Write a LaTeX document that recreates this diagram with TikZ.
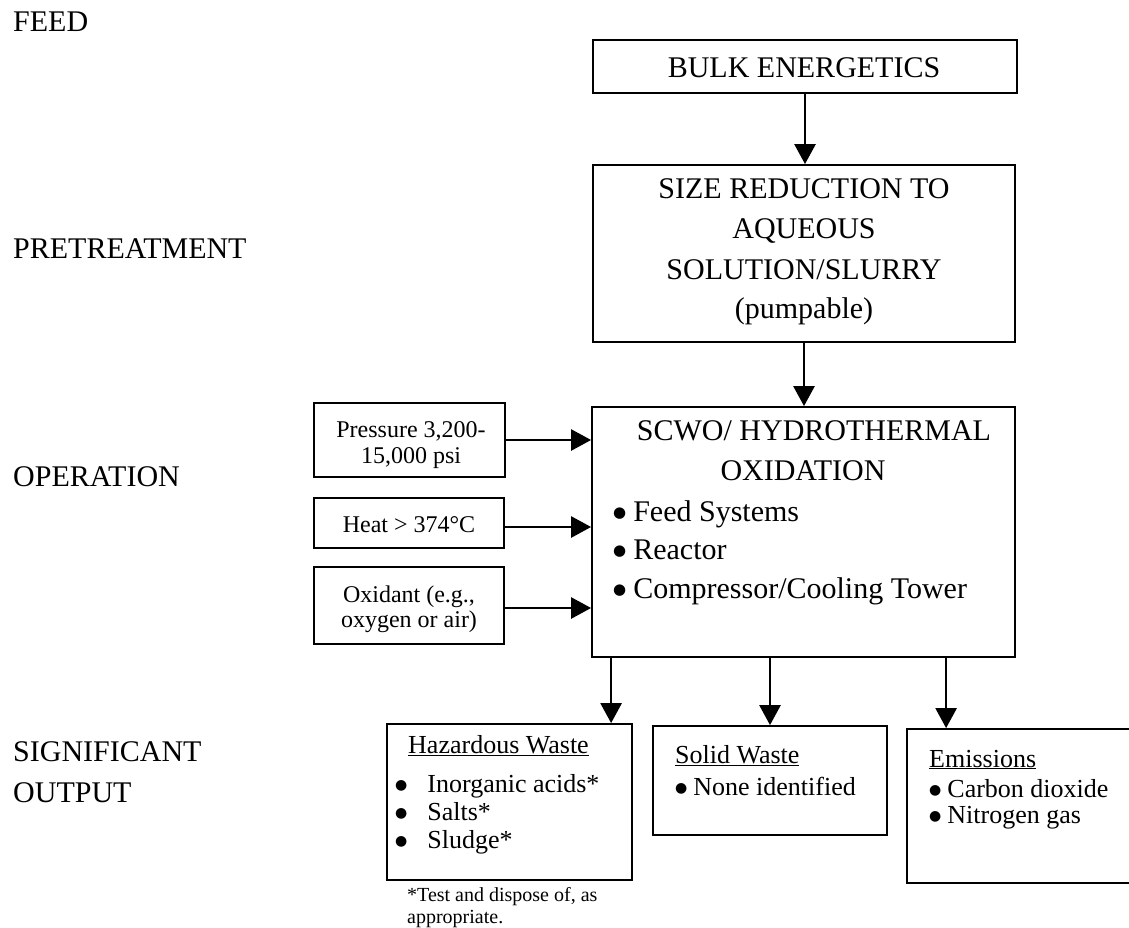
\documentclass[tikz,border=0pt]{standalone}
\usepackage{fontspec}
\usepackage{graphicx}
\setmainfont{Liberation Serif}
\newfontfamily\symfont{DejaVu Sans}
\usetikzlibrary{arrows.meta}
% round list bullets
\newcommand\bulbig{\raisebox{3.4pt}{\fontsize{15}{15}\symfont ●}\hspace{7pt}}
\newcommand\bulmid{\raisebox{3pt}{\fontsize{14}{14}\symfont ●}\hspace{6pt}}
\begin{document}
\begin{tikzpicture}[x=1pt,y=-1pt,
  box/.style={draw, line width=1.8pt, inner sep=0pt},
  flow/.style={-{Triangle[length=20pt,width=21pt]}, line width=2.6pt},
  big/.style={font=\fontsize{30}{36}\selectfont, inner sep=0pt},
  mid/.style={font=\fontsize{26}{31}\selectfont, inner sep=0pt},
  small/.style={font=\fontsize{24}{28}\selectfont, inner sep=0pt},
  note/.style={font=\fontsize{20}{24}\selectfont, inner sep=0pt},
  lbl/.style={big, anchor=base west},
  ctr/.style={anchor=base},
  lft/.style={anchor=base west}]
\useasboundingbox (0,0) rectangle (1129,928);

% stage labels on the left
\node[lbl] (lfeed) at (13,32) {FEED};
\node[lbl] (lpre) at (13,258) {PRETREATMENT};
\node[lbl] (lop) at (13,486) {OPERATION};
\node[lbl] (lsig) at (13,761) {SIGNIFICANT};
\node[lbl] (lout) at (13,802) {OUTPUT};

% process boxes
\node[box, minimum width=424pt, minimum height=53pt] (bulk) at (805,66.5) {};
\node[box, minimum width=422pt, minimum height=177pt] (size) at (804,253.5) {};
\node[box, minimum width=423pt, minimum height=250pt] (scwo) at (803.5,532) {};
\node[box, minimum width=191pt, minimum height=74pt] (press) at (409.5,440) {};
\node[box, minimum width=190pt, minimum height=50pt] (heat) at (409,523) {};
\node[box, minimum width=190pt, minimum height=77pt] (oxid) at (409,605.5) {};
\node[box, minimum width=245pt, minimum height=156pt] (haz) at (509.5,802) {};
\node[box, minimum width=234pt, minimum height=109pt] (solid) at (770,780.5) {};
\node[box, minimum width=233pt, minimum height=154pt] (emis) at (1023.5,806) {};

% box texts
\node[big, ctr] (tbulk) at (804,78) {BULK ENERGETICS};
\node[big, ctr] (tsize1) at (804,198) {SIZE REDUCTION TO};
\node[big, ctr] (tsize2) at (804,238) {AQUEOUS};
\node[big, ctr] (tsize3) at (804,279) {SOLUTION/SLURRY};
\node[big, ctr] (tsize4) at (804,318) {(pumpable)};

\node[big, ctr] (tscwo1) at (814,440) {SCWO/ HYDROTHERMAL};
\node[big, ctr] (tscwo2) at (803,480) {OXIDATION};
\node[big, lft] (tscwo3) at (613,521) {\bulbig Feed Systems};
\node[big, lft] (tscwo4) at (613,559) {\bulbig Reactor};
\node[big, lft] (tscwo5) at (613,598) {\bulbig Compressor/Cooling Tower};

\node[small, ctr] (tpress1) at (411,437) {Pressure 3,200-};
\node[small, ctr] (tpress2) at (411,463) {15,000 psi};
\node[small, ctr] (theat) at (409,532) {Heat > 374°C};
\node[small, ctr] (toxid1) at (409,602) {Oxidant (e.g.,};
\node[small, ctr] (toxid2) at (409,627) {oxygen or air)};

\node[mid, lft] (thaz0) at (408,753) {\underline{Hazardous Waste}};
\node[mid, lft] (thaz1) at (395,792) {\bulmid\hspace{14pt}Inorganic acids*};
\node[mid, lft] (thaz2) at (395,820) {\bulmid\hspace{14pt}Salts*};
\node[mid, lft] (thaz3) at (395,848) {\bulmid\hspace{14pt}Sludge*};
\node[note, lft] (tnote1) at (407,901) {*Test and dispose of, as};
\node[note, lft] (tnote2) at (407,923) {appropriate.};

\node[mid, lft] (tsol0) at (675,763) {\underline{Solid Waste}};
\node[mid, lft] (tsol1) at (675,795) {\bulmid None identified};

\node[mid, lft] (tem0) at (929,767) {\underline{Emissions}};
\node[mid, lft] (tem1) at (929,797) {\bulmid Carbon dioxide};
\node[mid, lft] (tem2) at (929,823) {\bulmid Nitrogen gas};

% connectors
\draw[flow] (bulk.south) -- (bulk.south |- size.north);
\draw[flow] (size.south) -- (size.south |- scwo.north);
\draw[flow] (press.east) -- (press.east -| scwo.west);
\draw[flow] ([yshift=-4pt]heat.east) -- ([yshift=-4pt]heat.east -| scwo.west);
\draw[flow] ([yshift=-2.5pt]oxid.east) -- ([yshift=-2.5pt]oxid.east -| scwo.west);
\coordinate (o1) at ([xshift=20pt]scwo.south west);
\coordinate (o3) at ([xshift=40pt]emis.north west);
\draw[flow] (o1) -- (o1 |- haz.north);
\draw[flow] (solid.north |- scwo.south) -- (solid.north);
\draw[flow] (o3 |- scwo.south) -- (o3);
\end{tikzpicture}
\end{document}
